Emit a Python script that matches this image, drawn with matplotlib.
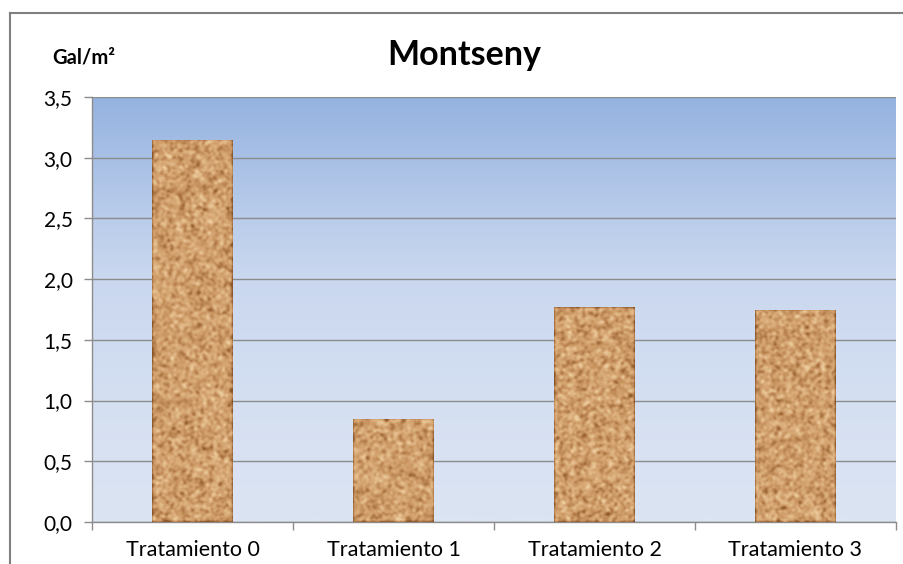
import numpy as np
import matplotlib.pyplot as plt
from matplotlib.colors import LinearSegmentedColormap
from matplotlib.lines import Line2D

tratamientos = ['Tratamiento 0', 'Tratamiento 1', 'Tratamiento 2', 'Tratamiento 3']
gal_m2 = [3.15, 0.85, 1.77, 1.75]
yticks = [0.0, 0.5, 1.0, 1.5, 2.0, 2.5, 3.0, 3.5]

plt.rcParams['font.family'] = ['Lato', 'DejaVu Sans']

fig = plt.figure(figsize=(9.04, 5.64), dpi=100)
ax = fig.add_axes([92 / 904, 42 / 564, 804 / 904, 425 / 564])

x = np.arange(len(tratamientos))

# plot-area fill: blue at the top fading to pale blue
bg = LinearSegmentedColormap.from_list('bg', ['#dbe4f3', '#c9d7ef', '#95b3e0'])
grad = np.linspace(0, 1, 256).reshape(-1, 1) ** 1.3
ax.imshow(grad, cmap=bg, origin='lower', extent=(-0.5, 3.5, 0, 3.5),
          aspect='auto', zorder=0)

ax.yaxis.grid(True, color='#8c8c8c', linewidth=1, zorder=1)
ax.set_axisbelow(True)

bars = ax.bar(x, gal_m2, width=0.4, color='#c99a6a', zorder=2)

# cork grain inside each bar
cork = LinearSegmentedColormap.from_list(
    'cork', ['#8a5528', '#b07a48', '#cc9965', '#dcb07e', '#eccb9c'])
rng = np.random.default_rng(7)
kern = np.array([1, 2, 3, 2, 1], dtype=float)
kern /= kern.sum()
for b in bars:
    h = int(b.get_height() * 121) + 1
    noise = rng.random((h, 80))
    noise = np.apply_along_axis(lambda r: np.convolve(r, kern, mode='same'), 0, noise)
    noise = np.apply_along_axis(lambda r: np.convolve(r, kern, mode='same'), 1, noise)
    noise = (noise - noise.mean()) / noise.std()
    noise = np.clip(0.55 + 0.17 * noise, 0, 1)
    x0 = b.get_x()
    im = ax.imshow(noise, cmap=cork, vmin=0, vmax=1,
                   extent=(x0, x0 + b.get_width(), 0, b.get_height()),
                   aspect='auto', zorder=3, interpolation='bilinear')
    im.set_clip_path(b)

ax.set_xlim(-0.5, 3.5)
ax.set_ylim(0, 3.5)

ax.set_yticks(yticks)
ax.set_yticklabels([f'{v:.1f}'.replace('.', ',') for v in yticks])
ax.set_xticks(x)
ax.set_xticklabels(tratamientos)
ax.set_xticks(np.arange(-0.5, 4.0, 1.0), minor=True)
ax.tick_params(axis='x', which='major', length=0, pad=13, labelsize=15.5)
ax.tick_params(axis='x', which='minor', length=6, color='#8c8c8c', width=1)
ax.tick_params(axis='y', length=6, color='#8c8c8c', width=1, pad=8, labelsize=15)

for s in ['top', 'right']:
    ax.spines[s].set_visible(False)
for s in ['left', 'bottom']:
    ax.spines[s].set_color('#8c8c8c')
    ax.spines[s].set_linewidth(1)

fig.text(464 / 904, 1 - 55 / 564, 'Montseny', ha='center', va='center',
         fontsize=24.5, fontweight='bold')
fig.text(84 / 904, 1 - 58 / 564, 'Gal/m²', ha='center', va='center',
         fontsize=14.5, fontweight='bold')

# chart frame
fig.add_artist(Line2D([10 / 904, 10 / 904], [0, 1 - 13 / 564],
                      transform=fig.transFigure, color='#808080', linewidth=1.5))
fig.add_artist(Line2D([10 / 904, 1], [1 - 13 / 564, 1 - 13 / 564],
                      transform=fig.transFigure, color='#808080', linewidth=1.5))

fig.savefig('out.png', dpi=100)
